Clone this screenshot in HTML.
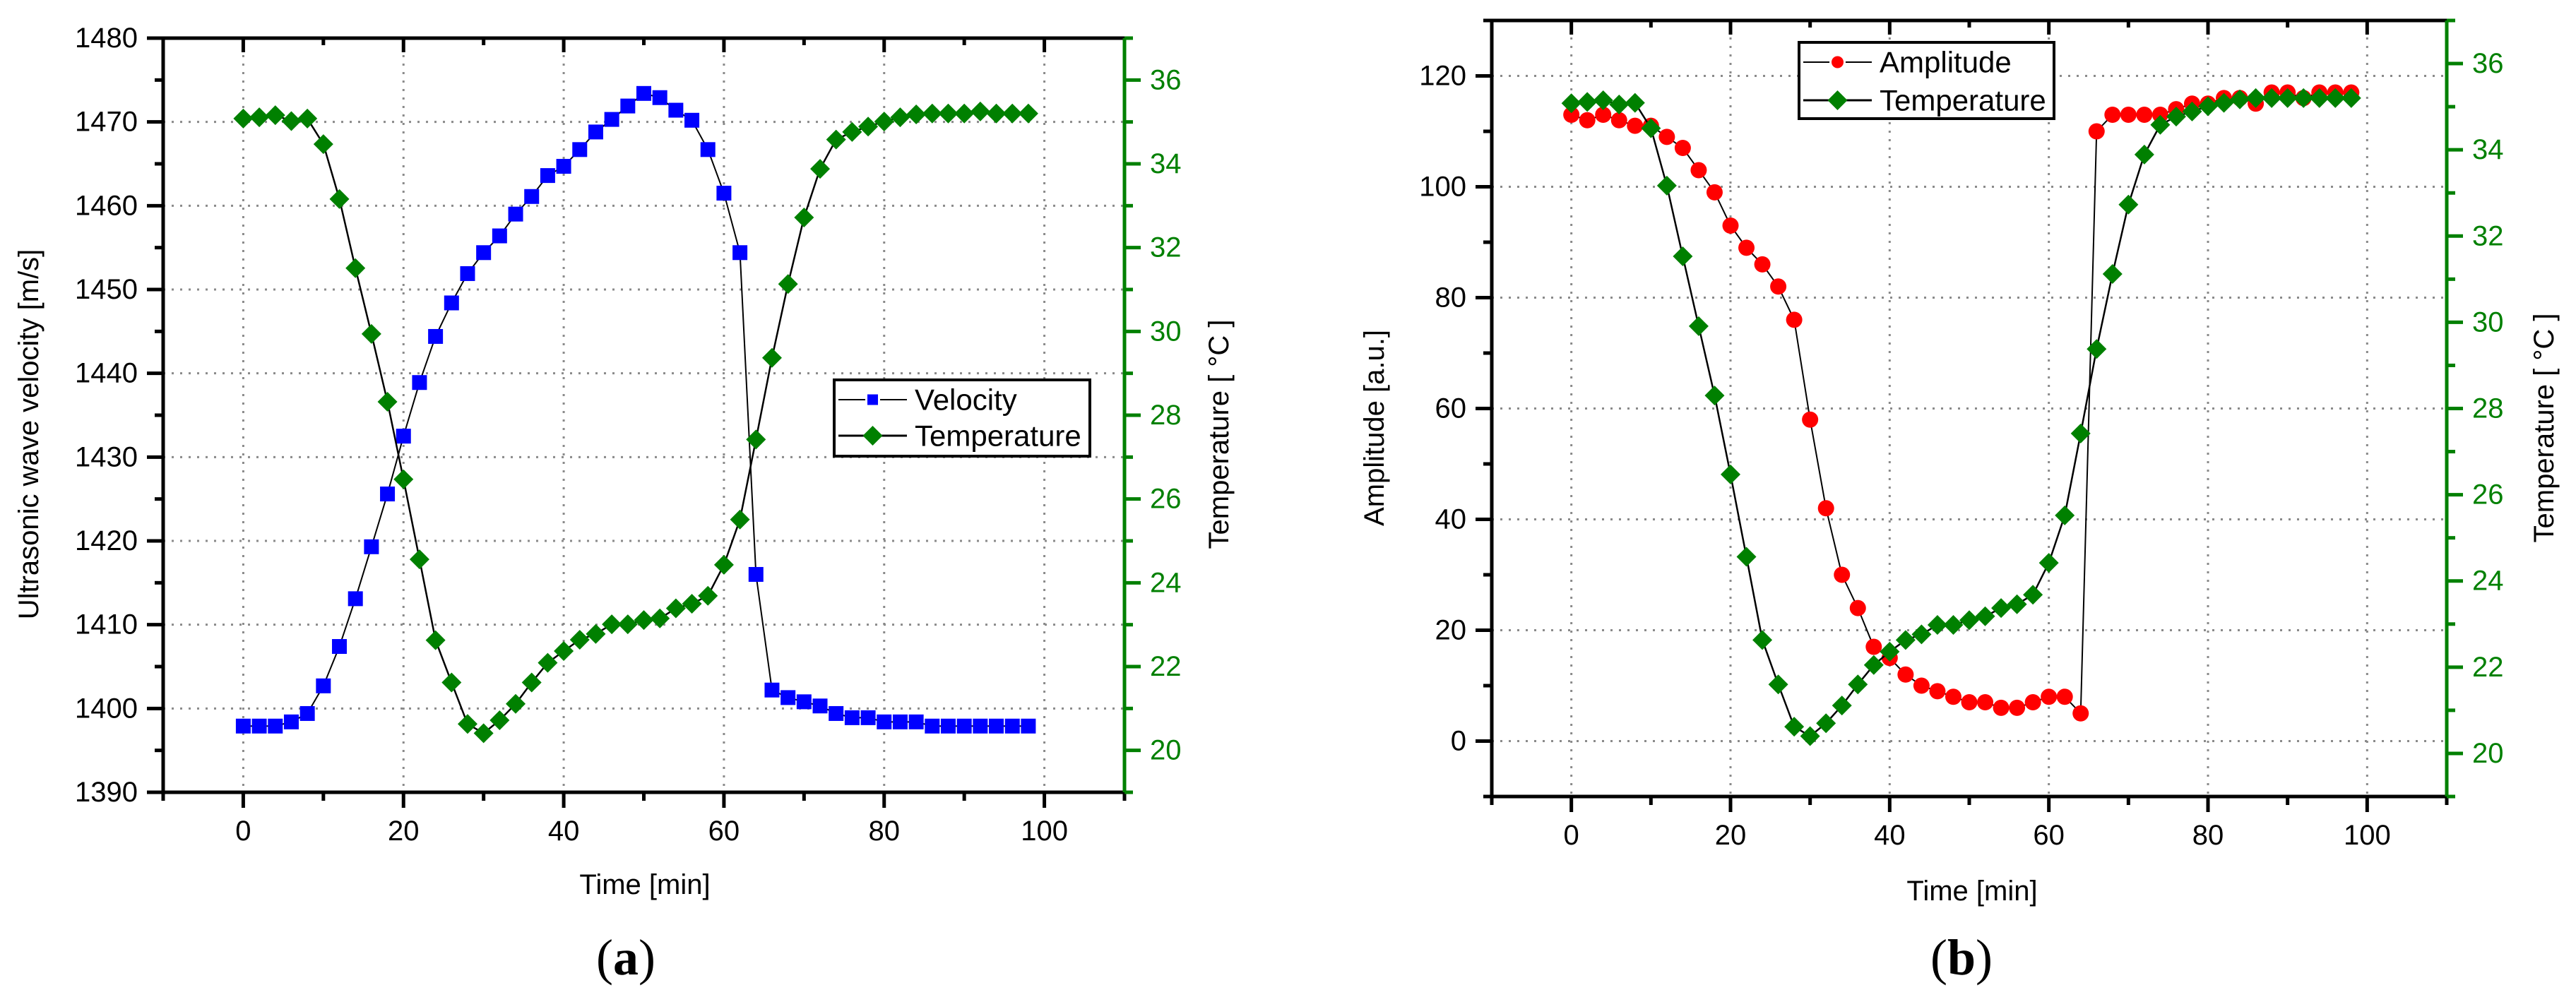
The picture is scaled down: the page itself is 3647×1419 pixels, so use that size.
<!DOCTYPE html>
<html><head><meta charset="utf-8"><style>
html,body{margin:0;padding:0;background:#fff}
svg{display:block}
text{font-family:"Liberation Sans",Arial,sans-serif}
</style></head><body>
<svg id="fig" width="3647" height="1419" viewBox="0 0 3647 1419" xmlns="http://www.w3.org/2000/svg"></svg>
<script>
const times = [0,2,4,6,8,10,12,14,16,18,20,22,24,26,28,30,32,34,36,38,40,42,44,46,48,50,52,54,56,58,60,62,64,66,68,70,72,74,76,78,80,82,84,86,88,90,92,94,96,98];
const velocity = [1397.9,1397.9,1397.9,1398.4,1399.4,1402.7,1407.4,1413.1,1419.3,1425.6,1432.5,1438.9,1444.4,1448.4,1451.9,1454.4,1456.4,1459.0,1461.1,1463.6,1464.7,1466.7,1468.8,1470.3,1471.9,1473.4,1472.9,1471.4,1470.2,1466.7,1461.5,1454.4,1416.0,1402.2,1401.3,1400.8,1400.3,1399.4,1398.9,1398.9,1398.4,1398.4,1398.4,1397.9,1397.9,1397.9,1397.9,1397.9,1397.9,1397.9];
const tempA = [35.08,35.11,35.16,35.02,35.08,34.47,33.16,31.51,29.94,28.32,26.47,24.56,22.63,21.62,20.63,20.41,20.72,21.11,21.62,22.09,22.37,22.64,22.78,23.01,23.01,23.11,23.15,23.39,23.50,23.69,24.43,25.51,27.42,29.37,31.13,32.72,33.88,34.58,34.76,34.89,35.01,35.11,35.18,35.2,35.2,35.2,35.25,35.2,35.2,35.2];
const amplitude = [113,112,113,112,111,111,109,107,103,99,93,89,86,82,76,58,42,30,24,17,15,12,10,9,8,7,7,6,6,7,8,8,5,110,113,113,113,113,114,115,115,116,116,115,117,117,116,117,117,117];
const tempB = [35.08,35.11,35.15,35.05,35.09,34.50,33.17,31.53,29.91,28.30,26.47,24.56,22.63,21.60,20.62,20.40,20.70,21.11,21.60,22.05,22.36,22.63,22.76,22.98,22.98,23.09,23.18,23.37,23.46,23.68,24.42,25.52,27.42,29.38,31.12,32.73,33.89,34.58,34.77,34.89,35.01,35.09,35.17,35.2,35.2,35.2,35.2,35.2,35.2,35.2];
const xTicks = [0,20,40,60,80,100];
const velTicks = [1390,1400,1410,1420,1430,1440,1450,1460,1470,1480];
const ampTicks = [0,20,40,60,80,100,120];
const tempTicks = [20,22,24,26,28,30,32,34,36];

const NS = "http://www.w3.org/2000/svg";
const svg = document.getElementById('fig');
function mk(tag, attrs, parent){
  const e = document.createElementNS(NS, tag);
  for (const k in attrs) e.setAttribute(k, attrs[k]);
  (parent||svg).appendChild(e);
  return e;
}
function lin(d0,d1,r0,r1){ return v => r0 + (v-d0)*(r1-r0)/(d1-d0); }

function drawChart(cfg){
  const g = mk('g', {});
  
  
  const X = lin(-10,110,cfg.L,cfg.R);
  const Y = lin(cfg.yMin,cfg.yMax,cfg.B,cfg.T);
  const Y2 = lin(19,37,cfg.B,cfg.T);
  const grid = mk('g', {stroke:'#8a8a8a','stroke-width':3,'stroke-dasharray':'3 9'}, g);
  
  
  xTicks.forEach(t => mk('line',{x1:X(t),x2:X(t),y1:cfg.T,y2:cfg.B},grid));
  cfg.yTicks.forEach(t => { if (t>cfg.yMin && t<cfg.yMax) mk('line',{x1:cfg.L,x2:cfg.R,y1:Y(t),y2:Y(t)},grid); });
  const ax = mk('g', {stroke:'#000','stroke-width':5,fill:'none'}, g);
  
  
  mk('line',{x1:cfg.L-12,x2:cfg.R,y1:cfg.T,y2:cfg.T},ax);
  mk('line',{x1:cfg.L,x2:cfg.R,y1:cfg.B,y2:cfg.B},ax);
  mk('line',{x1:cfg.L,x2:cfg.L,y1:cfg.T,y2:cfg.B+10},ax);
  for (let t=-10;t<=110;t+=10){
    const major = (t%20===0);
    const len = major?22:12;
    mk('line',{x1:X(t),x2:X(t),y1:cfg.B,y2:cfg.B+len},ax);
    if (t>-10 && t<110) mk('line',{x1:X(t),x2:X(t),y1:cfg.T,y2:cfg.T+(major?20:10)},ax);
  }
  xTicks.forEach(t => {
    const tx = mk('text',{x:X(t),y:cfg.B+68,'font-size':40,'text-anchor':'middle'},g);
    
    
    tx.textContent = t;
  });
  const step = cfg.yTicks[1]-cfg.yTicks[0];
  for (let v=cfg.yMin; v<=cfg.yMax+1e-6; v+=step/2){
    const major = cfg.yTicks.includes(Math.round(v*10)/10);
    mk('line',{x1:cfg.L-(major?23:12),x2:cfg.L,y1:Y(v),y2:Y(v)},ax);
  }
  cfg.yTicks.forEach(t => {
    const tx = mk('text',{x:cfg.L-36,y:Y(t),'font-size':40,'text-anchor':'end','dominant-baseline':'central'},g);
    
    
    tx.textContent = t;
  });
  const rax = mk('g',{stroke:'#008000','stroke-width':5},g);
  
  
  mk('line',{x1:cfg.R,x2:cfg.R,y1:cfg.T,y2:cfg.B},rax);
  for (let v=19; v<=37; v++){
    const major = v%2===0;
    mk('line',{x1:cfg.R,x2:cfg.R+(major?23:12),y1:Y2(v),y2:Y2(v)},rax);
  }
  tempTicks.forEach(t => {
    const tx = mk('text',{x:cfg.R+36,y:Y2(t),'font-size':40,fill:'#008000','dominant-baseline':'central'},g);
    
    
    tx.textContent = t;
  });
  const xt = mk('text',{x:cfg.xTitleX,y:cfg.xTitleY,'font-size':40,'text-anchor':'middle'},g);
  
  
  xt.textContent = 'Time [min]';
  const yt = mk('text',{x:0,y:0,'font-size':40,'text-anchor':'middle','dominant-baseline':'central',transform:`translate(${cfg.yTitleX},${cfg.yTitleY}) rotate(-90)`},g);
  
  
  yt.textContent = cfg.yTitle;
  const y2t = mk('text',{x:0,y:0,'font-size':40,'text-anchor':'middle','dominant-baseline':'central',transform:`translate(${cfg.y2TitleX},${cfg.yTitleY}) rotate(-90)`},g);
  
  
  y2t.textContent = 'Temperature [ °C ]';
  const s1 = mk('g',{},g);
  
  
  mk('polyline',{points:times.map((t,i)=>X(t)+','+Y(cfg.s1[i])).join(' '),fill:'none',stroke:'#000','stroke-width':2},s1);
  times.forEach((t,i)=>{
    let m;
    if (cfg.s1shape==='square') m = mk('rect',{x:X(t)-10.5,y:Y(cfg.s1[i])-10.5,width:21,height:21,fill:'#0000ff'},s1);
    else m = mk('circle',{cx:X(t),cy:Y(cfg.s1[i]),r:11.5,fill:'#ff0000'},s1);
    
    
  });
  const s2 = mk('g',{},g);
  
  
  mk('polyline',{points:times.map((t,i)=>X(t)+','+Y2(cfg.s2[i])).join(' '),fill:'none',stroke:'#000','stroke-width':2.5},s2);
  times.forEach((t,i)=>{
    const cx=X(t), cy=Y2(cfg.s2[i]), d=14;
    const m = mk('polygon',{points:`${cx},${cy-d} ${cx+d},${cy} ${cx},${cy+d} ${cx-d},${cy}`,fill:'#008000'},s2);
    
    
  });
  const lg = mk('g',{},g);
  
  
  const Lb = cfg.legend;
  mk('rect',{x:Lb.x0,y:Lb.y0,width:Lb.x1-Lb.x0,height:Lb.y1-Lb.y0,fill:'#fff',stroke:'#000','stroke-width':4},lg);
  const rows = [[cfg.s1label,'s1',Lb.r1],['Temperature','s2',Lb.r2]];
  rows.forEach(([lab,kind,ry])=>{
    const e = mk('g',{},lg);
    
    
    mk('line',{x1:Lb.lx0,x2:Lb.lx1,y1:ry,y2:ry,stroke:'#000','stroke-width':kind==='s1'?2:3},e);
    const mx=(Lb.lx0+Lb.lx1)/2;
    if (kind==='s2') mk('polygon',{points:`${mx},${ry-14} ${mx+14},${ry} ${mx},${ry+14} ${mx-14},${ry}`,fill:'#008000'},e);
    else if (cfg.s1shape==='square') mk('rect',{x:mx-9,y:ry-9,width:18,height:18,fill:'#0000ff',stroke:'#fff','stroke-width':3},e);
    else mk('circle',{cx:mx,cy:ry,r:10,fill:'#ff0000',stroke:'#fff','stroke-width':3},e);
    const tx = mk('text',{x:Lb.tx,y:ry,'font-size':42,'dominant-baseline':'central'},e);
    tx.textContent = lab;
  });
  const pl = mk('text',{x:cfg.panelX,y:1380,'font-size':72,'text-anchor':'middle',style:'font-family:"Liberation Serif",serif'},g);
  
  
  pl.innerHTML = '(<tspan font-weight="bold">'+cfg.panel+'</tspan>)';
}

drawChart({name:'chart-a-velocity',L:231,R:1592,T:54,B:1122,yMin:1390,yMax:1480,yTicks:velTicks,
  s1:velocity,s2:tempA,s1shape:'square',s1name:'velocity',s1label:'Velocity',
  xTitleX:913,xTitleY:1266,yTitle:'Ultrasonic wave velocity [m/s]',yTitleX:41,yTitleY:615,y2TitleX:1726,
  legend:{x0:1181,x1:1543,y0:538,y1:646,r1:566,r2:617,lx0:1187,lx1:1284,tx:1295},panelX:886,panel:'a'});
drawChart({name:'chart-b-amplitude',L:2112,R:3464,T:29,B:1128,yMin:-10,yMax:130,yTicks:ampTicks,
  s1:amplitude,s2:tempB,s1shape:'circle',s1name:'amplitude',s1label:'Amplitude',
  xTitleX:2792,xTitleY:1275,yTitle:'Amplitude [a.u.]',yTitleX:1946,yTitleY:606,y2TitleX:3602,
  legend:{x0:2547,x1:2908,y0:60,y1:168,r1:88,r2:142,lx0:2553,lx1:2650,tx:2661},panelX:2777,panel:'b'});
</script>
</body></html>
